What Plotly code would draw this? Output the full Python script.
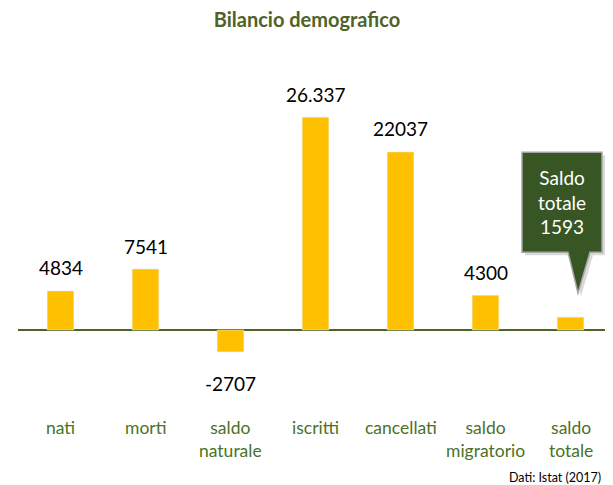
import plotly.graph_objects as go

categories = ["nati", "morti", "saldo<br>naturale", "iscritti", "cancellati", "saldo<br>migratorio", "saldo<br>totale"]
values = [4834, 7541, -2707, 26337, 22037, 4300, 1593]
value_labels = ["4834", "7541", "-2707", "26.337", "22037", "4300", ""]
callout_text = "Saldo<br>totale<br>1593"
title = "Bilancio demografico"
source = "Dati: Istat (2017)"

FONT = "Lato"
BAR = "#FFC000"
GREEN_DARK = "#375623"
GREEN_TXT = "#4A7229"

# browser body margin of 8px offsets the figure; size the figure so it fits the window
W, H = 605, 477
ml, mr, mt, mb = 10, 0, 32, 85
ymin, ymax = -8660, 35890
ppu = (H - mt - mb) / (ymax - ymin)  # pixels per unit
xpu = (W - ml - mr) / 7.0

fig = go.Figure()
fig.add_trace(go.Bar(x=list(range(len(values))), y=values, marker_color=BAR, width=0.314,
                     hoverinfo="skip"))

for i, (v, t) in enumerate(zip(values, value_labels)):
    if not t:
        continue
    fig.add_annotation(x=i, y=v, text=t, showarrow=False, xref="x", yref="y",
                       yanchor="middle", yshift=(23 if v >= 0 else -32),
                       font=dict(family=FONT, size=19, color="black"))

for i, c in enumerate(categories):
    fig.add_annotation(x=i, y=ymin, text=c, showarrow=False, xref="x", yref="y",
                       yanchor="top", yshift=-15,
                       font=dict(family=FONT, size=17.5, color=GREEN_TXT))

# callout over last bar
i = len(values) - 1
v = values[i]
def px_x(dx):
    return dx / xpu
def px_y(dy):
    return dy / ppu
tip_x = i + px_x(7.5)
tip_y = v + px_y(24)
base_y = tip_y + px_y(41)
top_y = base_y + px_y(100)
left = i - px_x(48.5)
right = i + px_x(31.5)
bl = i - px_x(2.5)
br = i + px_x(19.5)

def make_path(sx, sy):
    dx, dy = px_x(sx), px_y(sy)
    pts = [(tip_x, tip_y), (bl, base_y), (left, base_y), (left, top_y),
           (right, top_y), (right, base_y), (br, base_y)]
    return "M " + " L ".join(f"{x + dx} {y - dy}" for x, y in pts) + " Z"

fig.add_shape(type="path", path=make_path(3, 3), xref="x", yref="y",
              fillcolor="rgba(0,0,0,0.15)", line=dict(width=0), layer="above")
fig.add_shape(type="path", path=make_path(0, 0), xref="x", yref="y", fillcolor=GREEN_DARK,
              line=dict(color="#A6A6A6", width=1.5), layer="above")
fig.add_annotation(x=(left + right) / 2, y=(base_y + top_y) / 2, text=callout_text, showarrow=False,
                   xref="x", yref="y", align="center",
                   font=dict(family=FONT, size=19, color="white"))

fig.update_layout(
    width=W, height=H,
    margin=dict(l=ml, r=mr, t=mt, b=mb),
    paper_bgcolor="white", plot_bgcolor="white",
    showlegend=False,
    title=dict(text="<b>" + title + "</b>", x=(307 - 8) / W, xanchor="center", y=1 - 12 / H,
               yanchor="middle", font=dict(family=FONT, size=20, color="#4F6228")),
    xaxis=dict(range=[-0.5, 6.5], showticklabels=False, showgrid=False, zeroline=False,
               ticks="", fixedrange=True),
    yaxis=dict(range=[ymin, ymax], showticklabels=False, showgrid=False, zeroline=True,
               zerolinecolor="#4F6228", zerolinewidth=2, ticks="", fixedrange=True),
)
fig.add_annotation(x=1, y=0, xref="paper", yref="paper",
                   xanchor="right", yanchor="middle", xshift=-10,
                   yshift=-77, text=source, showarrow=False,
                   font=dict(family=FONT, size=12.5, color="black"))

fig.write_html("out.html")
